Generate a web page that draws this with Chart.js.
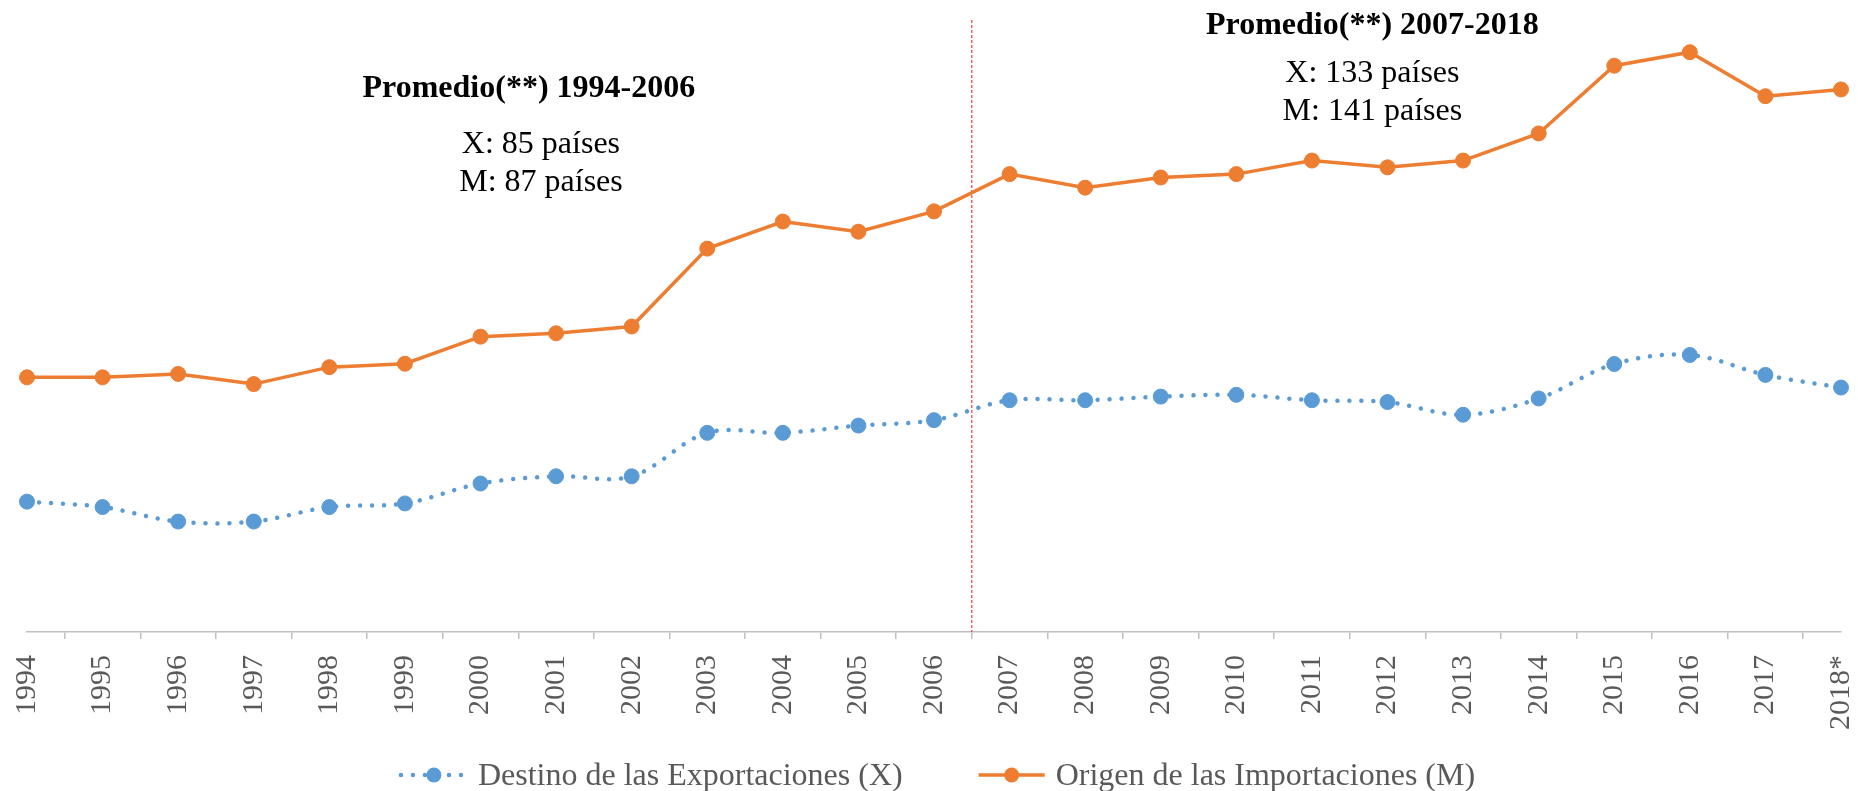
<!DOCTYPE html>
<html>
<head>
<meta charset="utf-8">
<script src="https://cdn.jsdelivr.net/npm/chart.js@4.4.1/dist/chart.umd.min.js"></script>
<style>
  html, body { margin: 0; padding: 0; background: #fff; }
  #wrap { width: 1858px; height: 791px; }
</style>
</head>
<body>
<div id="wrap"><canvas id="chart"></canvas></div>
<script>
// años (eje X)
const years = ["1994", "1995", "1996", "1997", "1998", "1999", "2000", "2001", "2002",
  "2003", "2004", "2005", "2006", "2007", "2008", "2009", "2010", "2011", "2012",
  "2013", "2014", "2015", "2016", "2017", "2018*"];

// número de países
const exportsX = [72, 69, 61, 61, 69, 71, 82, 86, 86, 110, 110, 114, 117,
  128, 128, 130, 131, 128, 127, 120, 129, 148, 153, 142, 135];
const importsM = [70, 70, 71, 68, 73, 74, 82, 83, 85, 108, 116, 113, 119,
  130, 126, 129, 130, 134, 132, 134, 142, 162, 166, 153, 155];

const seriesNames = ["Destino de las Exportaciones (X)", "Origen de las Importaciones (M)"];
const noteLeft = ["Promedio(**) 1994-2006", "X: 85 países", "M: 87 países"];
const noteRight = ["Promedio(**) 2007-2018", "X: 133 países", "M: 141 países"];

const BLUE = "#5B9BD5";
const ORANGE = "#ED7D31";
const SERIF = "'Liberation Serif', 'Times New Roman', serif";

// divisor entre periodos, textos de promedio y leyenda
const extras = {
  id: "extras",
  beforeDatasetsDraw(chart) {
    const { ctx, chartArea, scales } = chart;
    const x = scales.x.getPixelForValue(12.5);
    ctx.save();
    ctx.strokeStyle = "#f03c3c";
    ctx.lineWidth = 1.2;
    ctx.setLineDash([3, 2]);
    ctx.beginPath();
    ctx.moveTo(x, chartArea.top);
    ctx.lineTo(x, chartArea.bottom);
    ctx.stroke();
    ctx.restore();
  },
  afterDraw(chart) {
    const { ctx, scales, chartArea } = chart;
    ctx.save();
    ctx.fillStyle = "#000";
    ctx.textAlign = "center";
    ctx.textBaseline = "alphabetic";
    const notes = [
      { lines: noteLeft, at: [[6.64, 295.3], [6.8, 264.4], [6.8, 243.3]] },
      { lines: noteRight, at: [[17.8, 330.3], [17.8, 303.7], [17.8, 283.0]] }
    ];
    notes.forEach(n => {
      n.lines.forEach((t, i) => {
        ctx.font = (i === 0 ? "bold " : "") + "32px " + SERIF;
        ctx.fillText(t, scales.x.getPixelForValue(n.at[i][0]), scales.y.getPixelForValue(n.at[i][1]));
      });
    });

    // leyenda
    ctx.font = "32px " + SERIF;
    const sym = 66, gap = 11, between = 76;
    const items = chart.data.datasets.map(ds => ({ ds, w: ctx.measureText(ds.label).width }));
    const total = items.reduce((s, it) => s + sym + gap + it.w, 0) + between * (items.length - 1);
    let x = (chartArea.left + chartArea.right) / 2 + 4 - total / 2;
    const y = 775;
    items.forEach(({ ds, w }) => {
      ctx.strokeStyle = ds.borderColor;
      ctx.lineWidth = ds.borderWidth;
      ctx.lineCap = ds.borderCapStyle || "butt";
      ctx.setLineDash(ds.borderDash || []);
      ctx.beginPath();
      ctx.moveTo(x, y);
      ctx.lineTo(x + sym, y);
      ctx.stroke();
      ctx.setLineDash([]);
      ctx.fillStyle = ds.backgroundColor;
      ctx.beginPath();
      ctx.arc(x + sym / 2, y, 7.5, 0, Math.PI * 2);
      ctx.fill();
      ctx.fillStyle = "#595959";
      ctx.textAlign = "left";
      ctx.fillText(ds.label, x + sym + gap, 785);
      x += sym + gap + w + between;
    });
    ctx.restore();
  }
};

const ctx = document.getElementById("chart").getContext("2d");

const chart = new Chart(ctx, {
  type: "line",
  data: {
    labels: years,
    datasets: [{
      label: seriesNames[0],
      data: exportsX,
      yAxisID: "y",
      borderColor: BLUE,
      backgroundColor: BLUE,
      borderWidth: 4.5,
      borderDash: [0.01, 12],
      borderCapStyle: "round",
      tension: 0.35,
      pointRadius: 7.5,
      pointHoverRadius: 7.5,
      pointBorderWidth: 1,
      clip: false
    }, {
      label: seriesNames[1],
      data: importsM,
      yAxisID: "y1",
      borderColor: ORANGE,
      backgroundColor: ORANGE,
      borderWidth: 3.5,
      tension: 0,
      pointRadius: 7.5,
      pointHoverRadius: 7.5,
      pointBorderWidth: 1,
      clip: false
    }]
  },
  options: {
    responsive: true,
    maintainAspectRatio: false,
    animation: false,
    events: [],
    layout: { autoPadding: false, padding: { top: 20, left: 27, right: 17, bottom: 39 } },
    plugins: {
      legend: { display: false },
      tooltip: { enabled: false }
    },
    scales: {
      x: {
        offset: false,
        grid: { display: true, drawOnChartArea: false, drawTicks: true, tickLength: 7, offset: true, color: "#bfbfbf", lineWidth: 1.5 },
        border: { display: true, color: "#bfbfbf", width: 1.5 },
        ticks: {
          color: "#595959",
          font: { family: SERIF, size: 30 },
          minRotation: 90,
          maxRotation: 90,
          padding: 16,
          autoSkip: false
        },
        afterFit(scale) {
          scale.height = 120;
          scale.paddingLeft = 0;
          scale.paddingRight = 0;
        }
      },
      y: { display: false, min: 0, max: 338 },
      y1: { display: false, position: "right", min: -5.2, max: 175.5 }
    }
  },
  plugins: [extras]
});
</script>
</body>
</html>
